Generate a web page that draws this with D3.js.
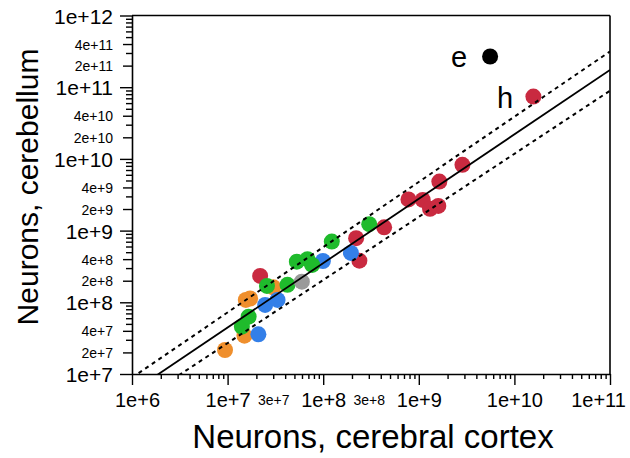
<!DOCTYPE html>
<html><head><meta charset="utf-8">
<script src="https://cdnjs.cloudflare.com/ajax/libs/d3/7.8.5/d3.min.js"></script>
<style>
html,body{margin:0;padding:0;background:#fff;}
svg{display:block;font-family:"Liberation Sans",Arial,Helvetica,sans-serif;}
</style></head>
<body>
<svg id="chart" width="630" height="458"></svg>
<script>
// ---- data (cortex neurons, cerebellum neurons) ----
const orangeCortex = [9.4e6, 1.5e7, 1.55e7, 1.72e7, 3.0e7];
const orangeCerebellum = [2.16e7, 3.42e7, 1.08e8, 1.13e8, 1.62e8];
const redCortex = [2.19e7, 2.21e8, 2.39e8, 4.34e8, 7.8e8, 1.1e9, 1.31e9, 1.6e9, 1.64e9, 2.86e9, 1.58e10];
const redCerebellum = [2.33e8, 7.83e8, 3.81e8, 1.11e9, 2.72e9, 2.68e9, 2.01e9, 2.21e9, 4.83e9, 8.26e9, 7.41e10];
const blueCortex = [2.1e7, 2.47e7, 3.33e7, 9.93e7, 1.95e8];
const blueCerebellum = [3.58e7, 9.18e7, 1.08e8, 3.77e8, 4.88e8];
const greenCortex = [1.41e7, 1.66e7, 2.58e7, 4.23e7, 5.3e7, 6.85e7, 7.67e7, 1.23e8, 3.03e8];
const greenCerebellum = [4.57e7, 6.3e7, 1.69e8, 1.75e8, 3.69e8, 3.99e8, 3.32e8, 7.02e8, 1.23e9];
const grayCortex = [5.98e7];
const grayCerebellum = [1.94e8];
const blackCortex = [5.57e9];
const blackCerebellum = [2.68e11];
const labelNames = ["e", "h"];
const labelCortex = [2.63e9, 7.98e9];
const labelCerebellum = [2.68e11, 7.2e10];

// fitted power-law lines: log10(y) = a + b*log10(x)
const fitIntercept = [1.362, 1.489, 1.271];
const fitSlope = [0.898, 0.910, 0.880];
const fitDashed = [false, true, true];

const xMajor = [1e6, 1e7, 1e8, 1e9, 1e10, 1e11];
const xLabeledMinor = [3e7, 3e8];
const yMajor = [1e7, 1e8, 1e9, 1e10, 1e11, 1e12];
const yLabeledMinor = [2e7, 4e7, 2e8, 4e8, 2e9, 4e9, 2e10, 4e10, 2e11, 4e11];

const xTitle = "Neurons, cerebral cortex";
const yTitle = "Neurons, cerebellum";

// ---- drawing ----
const svg = d3.select("#chart");
const x = d3.scaleLog().domain([1e6, 1e11]).range([132, 610]);
const y = d3.scaleLog().domain([1e7, 1e12]).range([374, 15.5]);

function minorTicks(lo, hi) {
  const out = [];
  for (let e = lo; e < hi; e++) for (let m = 1; m <= 9; m++) out.push(m * Math.pow(10, e));
  out.push(Math.pow(10, hi));
  return out;
}
const fmtExp = v => {
  const e = Math.floor(Math.log10(v) + 1e-9);
  const m = Math.round(v / Math.pow(10, e));
  return m + "e+" + e;
};
const isIn = (arr, v) => arr.some(a => Math.abs(a - v) / a < 1e-6);

// clip
svg.append("defs").append("clipPath").attr("id", "plotclip")
  .append("rect").attr("x", 132).attr("y", 15.5).attr("width", 478).attr("height", 358.5);

// frame top & right
svg.append("line").attr("x1", x(1e6)).attr("x2", x(1e11)).attr("y1", y(1e12)).attr("y2", y(1e12))
  .attr("stroke", "#000").attr("stroke-width", 1.6);
svg.append("line").attr("x1", x(1e11)).attr("x2", x(1e11)).attr("y1", y(1e12)).attr("y2", y(1e7))
  .attr("stroke", "#000").attr("stroke-width", 1.6);

// x axis
const xAxis = d3.axisBottom(x).tickValues(minorTicks(6, 11)).tickSizeOuter(0)
  .tickFormat(v => (isIn(xMajor, v) || isIn(xLabeledMinor, v)) ? fmtExp(v) : "");
const gx = svg.append("g").attr("transform", `translate(0,${y(1e7)})`).call(xAxis);
gx.select(".domain").attr("stroke-width", 1.6);
gx.selectAll(".tick").each(function(v) {
  const t = d3.select(this);
  const major = isIn(xMajor, v);
  let shift = 0;
  if (Math.abs(v - 1e6) < 1) shift = 5;
  if (Math.abs(v - 1e11) < 1e3) shift = -12;
  t.select("line").attr("y2", major ? 11 : 5).attr("stroke-width", 1.4);
  t.select("text").attr("x", shift).attr("y", major ? 33 : 31).attr("dy", 0)
    .attr("font-size", major ? 20 : 14).attr("fill", "#000")
    .attr("font-family", "Liberation Sans, Arial, sans-serif");
});

// y axis
const yAxis = d3.axisLeft(y).tickValues(minorTicks(7, 12)).tickSizeOuter(0)
  .tickFormat(v => (isIn(yMajor, v) || isIn(yLabeledMinor, v)) ? fmtExp(v) : "");
const gy = svg.append("g").attr("transform", `translate(${x(1e6)},0)`).call(yAxis);
gy.select(".domain").attr("stroke-width", 1.6);
gy.selectAll(".tick").each(function(v) {
  const t = d3.select(this);
  const major = isIn(yMajor, v);
  const lab = isIn(yLabeledMinor, v);
  t.select("line").attr("x2", major ? -12 : (lab ? -9 : -6)).attr("stroke-width", 1.4);
  t.select("text").attr("x", -19).attr("dy", "0.36em")
    .attr("font-size", major ? 21 : 14).attr("fill", "#000")
    .attr("font-family", "Liberation Sans, Arial, sans-serif");
});

// points
const groups = [
  {cx: orangeCortex, cy: orangeCerebellum, color: "#ef8f2d"},
  {cx: redCortex, cy: redCerebellum, color: "#c92a40"},
  {cx: blueCortex, cy: blueCerebellum, color: "#337fe8"},
  {cx: greenCortex, cy: greenCerebellum, color: "#1fbb2c"},
  {cx: grayCortex, cy: grayCerebellum, color: "#9a9a9a"},
  {cx: blackCortex, cy: blackCerebellum, color: "#000000"}
];
const gp = svg.append("g").attr("clip-path", "url(#plotclip)");
groups.forEach(g => {
  gp.selectAll(null).data(g.cx.map((v, i) => [v, g.cy[i]])).enter().append("circle")
    .attr("cx", d => x(d[0])).attr("cy", d => y(d[1])).attr("r", 8).attr("fill", g.color);
});

// fit lines
const gl = svg.append("g").attr("clip-path", "url(#plotclip)");
const line = d3.line().x(d => x(d[0])).y(d => y(d[1]));
fitSlope.forEach((b, i) => {
  const a = fitIntercept[i];
  const xs = [1e6, 1e11];
  const pts = xs.map(v => [v, Math.pow(10, a + b * Math.log10(v))]);
  gl.append("path").attr("d", line(pts)).attr("fill", "none").attr("stroke", "#000")
    .attr("stroke-width", fitDashed[i] ? 2 : 1.8)
    .attr("stroke-dasharray", fitDashed[i] ? "4,4" : null);
});

// labels
svg.selectAll(null).data(labelNames).enter().append("text")
  .attr("x", (d, i) => x(labelCortex[i])).attr("y", (d, i) => y(labelCerebellum[i]))
  .attr("dy", "0.36em").attr("text-anchor", "middle").attr("font-size", 29).text(d => d);

// titles
svg.append("text").attr("x", 373).attr("y", 448).attr("text-anchor", "middle")
  .attr("font-size", 33).text(xTitle);
svg.append("text").attr("transform", "translate(38,187) rotate(-90)").attr("text-anchor", "middle")
  .attr("font-size", 30).text(yTitle);
</script>
</body></html>
